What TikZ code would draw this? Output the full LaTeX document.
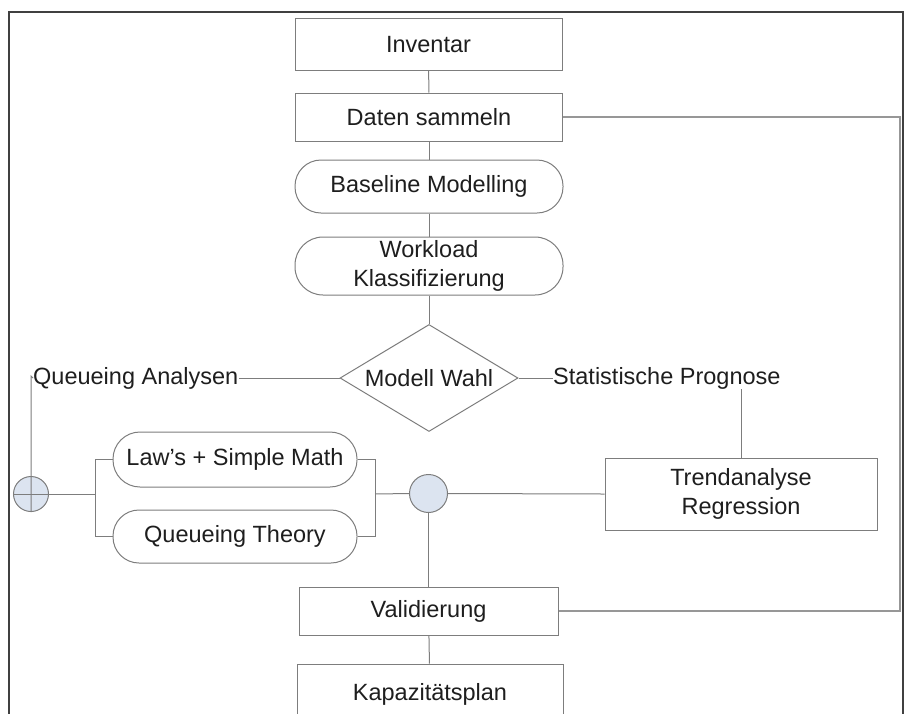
\documentclass[tikz,border=0pt]{standalone}
\usepackage{fontspec}
\setmainfont{Liberation Sans}
\usetikzlibrary{shapes.geometric}
\definecolor{ln}{HTML}{7D7D7D}
\definecolor{tx}{HTML}{1E1E1E}
\definecolor{cf}{HTML}{DCE4F0}
\tikzset{
  lbl/.style={text=tx, font=\fontsize{23.5}{28.5}\selectfont, align=center},
  box/.style={lbl, draw=ln, line width=1pt, inner sep=0pt},
  stad/.style={box},
  conn/.style={draw=ln, line width=1pt},
  junc/.style={circle, draw=ln, fill=cf, line width=1pt, inner sep=0pt},
}
\begin{document}
\begin{tikzpicture}[x=1pt,y=-1pt]
\useasboundingbox (0,0) rectangle (909,713);
\clip (0,0) rectangle (909,713);
% frame
\draw[line width=1.2pt, color=black!75] (9,740) -- (9,12) -- (903,12) -- (903,740);

% nodes
\node[box, minimum width=267, minimum height=52] (inv) at (428.5,44.5) {Inventar};
\node[box, minimum width=267, minimum height=48] (dat) at (429,117) {Daten sammeln};
\node[stad, rounded corners=26pt, minimum width=268, minimum height=53] (base) at (429,186.5) {Baseline Modelling};
\node[stad, rounded corners=28pt, minimum width=268, minimum height=58] (work) at (429,266) {Workload\\Klassifizierung};
\node[diamond, aspect=1.66, draw=ln, line width=1pt, inner sep=0pt, minimum width=178, minimum height=107, lbl] (dia) at (429,378) {Modell Wahl};
\node[lbl, inner sep=0pt, anchor=west] (qa) at (33,378) {Queueing Analysen};
\node[lbl, inner sep=0pt, anchor=west] (sp) at (553,378) {Statistische Prognose};

\node[junc, minimum size=35] (c1) at (31,494) {};
\node[stad, rounded corners=27pt, minimum width=244, minimum height=55] (law) at (235,459.5) {Law's + Simple Math};
\node[stad, rounded corners=26pt, minimum width=244, minimum height=53] (qt) at (235,536.5) {Queueing Theory};
\node[junc, minimum size=38] (c2) at (428.5,493.5) {};
\node[box, minimum width=272, minimum height=72] (trend) at (741,494) {Trendanalyse\\Regression};
\node[box, minimum width=259, minimum height=48] (val) at (428.5,611) {Validierung};
\node[box, minimum width=266, minimum height=60] (kap) at (430,694) {Kapazitätsplan};

\coordinate (lb) at (95,494);
\coordinate (rb) at (375,494);
\coordinate (sr) at (900,117);

% connectors
\draw[conn] (inv) -- (dat);
\draw[conn] (dat) -- (base);
\draw[conn] (base) -- (work);
\draw[conn] (work) -- (dia);
\draw[conn] (dia.west) -- (qa.east);
\draw[conn] (dia.east) -- (sp.west);
\draw[conn] (sp.south -| trend.north) -- (trend.north);
\draw[conn] (c1.south) -- (31,376) -- (qa.west);
\draw[conn] (c1.west) -- (lb);
\draw[conn] (law.west) -| (lb |- qt.west) -- (qt.west);
\draw[conn] (law.east) -| (rb |- qt.east) -- (qt.east);
\draw[conn] (rb) -- (c2.west);
\draw[conn] (c2.east) -- (trend.west);
\draw[conn] (c2.south) -- (val.north);
\draw[conn] (val) -- (kap);
\draw[draw=ln!80, line width=2pt] (val.east) -| (sr) -- (dat.east);
\end{tikzpicture}
\end{document}
